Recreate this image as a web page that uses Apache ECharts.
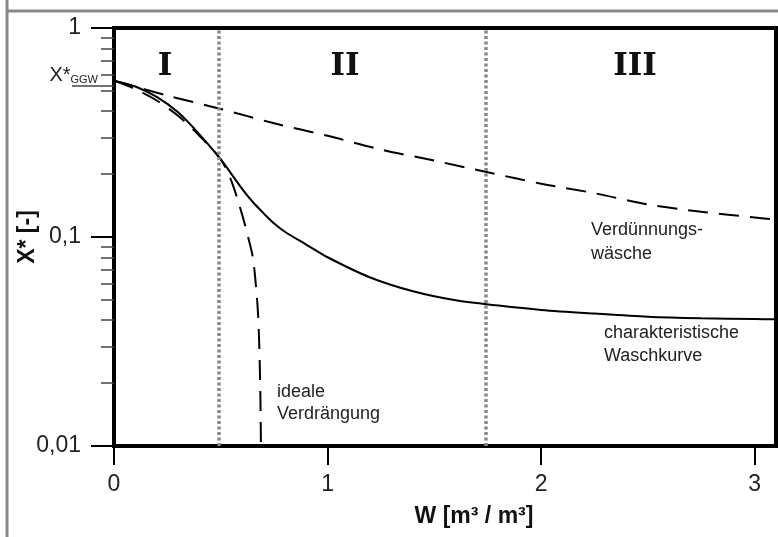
<!DOCTYPE html>
<html><head><meta charset="utf-8">
<script src="https://cdn.jsdelivr.net/npm/echarts@6/dist/echarts.min.js"></script>
<style>html,body{margin:0;padding:0;background:#fff}#c{width:778px;height:537px}</style>
</head><body><div id="c"></div>
<script>
// ---- data ----
const dilutionW = [0, 0.25, 0.5, 0.75, 1.0, 1.25, 1.5, 1.75, 2.0, 2.25, 2.5, 2.75, 3.0, 3.1];
const dilutionX = [0.56, 0.475, 0.41, 0.35, 0.305, 0.262, 0.232, 0.204, 0.18, 0.162, 0.143, 0.132, 0.124, 0.121];

const washW = [0, 0.1, 0.2, 0.3, 0.4, 0.5, 0.6, 0.65, 0.7, 0.75, 0.8, 0.9, 1.0, 1.2, 1.4, 1.6, 1.8, 2.0, 2.25, 2.5, 2.75, 3.0, 3.1];
const washX = [0.56, 0.525, 0.468, 0.395, 0.31, 0.235, 0.17, 0.147, 0.13, 0.116, 0.106, 0.092, 0.08, 0.064, 0.055, 0.0498, 0.047, 0.0448, 0.043, 0.0415, 0.0408, 0.0405, 0.0404];

const idealW = [0, 0.1, 0.2, 0.3, 0.4, 0.5, 0.55, 0.6, 0.63, 0.65, 0.665, 0.675, 0.682, 0.686, 0.688];
const idealX = [0.56, 0.51, 0.45, 0.38, 0.305, 0.235, 0.185, 0.128, 0.098, 0.08, 0.058, 0.042, 0.026, 0.016, 0.0103];

const regionBounds = [0.49, 1.74];
const xTicks = [0, 1, 2, 3];
const yMajor = [0.01, 0.1, 1];
const yMinor = [0.02,0.03,0.04,0.05,0.06,0.07,0.08,0.09,0.2,0.3,0.4,0.5,0.6,0.7,0.8,0.9];
const yGGW = [0.53];
const regionNames = ['I', 'II', 'III'];

const pairs = (a, b) => a.map((v, i) => [v, b[i]]);
const FONT = 'Liberation Sans, Arial, sans-serif';

const baseY = {
  type: 'log', logBase: 10, min: 0.01, max: 1, position: 'left', gridIndex: 0,
  splitLine: { show: false }, minorTick: { show: false }
};

const chart = echarts.init(document.getElementById('c'), null, { renderer: 'canvas' });
chart.setOption({
  animation: false,
  backgroundColor: '#fff',
  grid: { left: 114, top: 28, right: 2, bottom: 91, show: true, borderColor: '#000', borderWidth: 4,
          containLabel: false, outerBoundsMode: 'none' },
  xAxis: {
    type: 'value', min: 0, max: 3.1, interval: 1,
    axisLine: { lineStyle: { color: '#000', width: 4 } },
    axisTick: { show: true, length: 19, lineStyle: { color: '#000', width: 2 }, customValues: xTicks },
    axisLabel: { customValues: xTicks, margin: 27, fontSize: 23, color: '#222', fontFamily: FONT },
    splitLine: { show: false },
    name: 'W [m³ / m³]', nameLocation: 'middle', nameGap: 59, nameMoveOverlap: false,
    nameTextStyle: { fontSize: 23, fontWeight: 'bold', color: '#111', fontFamily: FONT, padding: [0, 0, 0, 58] }
  },
  yAxis: [
    Object.assign({}, baseY, {
      axisLine: { show: true, lineStyle: { color: '#000', width: 4 } },
      axisTick: { show: true, length: 23, lineStyle: { color: '#000', width: 2 }, customValues: yMajor },
      axisLabel: { customValues: yMajor, margin: 33, fontSize: 23, color: '#222', fontFamily: FONT,
        formatter: v => String(v).replace('.', ',') },
      name: 'X* [-]', nameLocation: 'middle', nameGap: 75, nameRotate: 90, nameMoveOverlap: false,
      nameTextStyle: { fontSize: 23, fontWeight: 'bold', color: '#111', fontFamily: FONT }
    }),
    Object.assign({}, baseY, {
      axisLine: { show: false },
      axisTick: { show: true, length: 13, lineStyle: { color: '#444', width: 1.5 }, customValues: yMinor },
      axisLabel: { show: false }
    }),
    Object.assign({}, baseY, {
      axisLine: { show: false },
      axisTick: { show: true, length: 42, lineStyle: { color: '#444', width: 1.5 }, customValues: yGGW },
      axisLabel: { customValues: yGGW, margin: 16, verticalAlign: 'bottom', color: '#222', fontFamily: FONT,
        formatter: () => '{x|X*}{s|GGW}',
        rich: { x: { fontSize: 20, fontFamily: FONT, color: '#222' },
                s: { fontSize: 11, fontFamily: FONT, color: '#222', verticalAlign: 'bottom' } } }
    })
  ],
  series: [
    { type: 'line', name: 'Verdünnungswäsche', data: pairs(dilutionW, dilutionX), smooth: 0.3,
      showSymbol: false, lineStyle: { color: '#000', width: 2, type: [20, 11] },
      markLine: { silent: true, symbol: 'none', label: { show: false },
        lineStyle: { color: '#888', width: 3.5, type: [3, 2.5] },
        data: regionBounds.map(v => ({ xAxis: v })) } },
    { type: 'line', name: 'charakteristische Waschkurve', data: pairs(washW, washX), smooth: 0.3,
      showSymbol: false, lineStyle: { color: '#000', width: 2 } },
    { type: 'line', name: 'ideale Verdrängung', data: pairs(idealW, idealX), smooth: 0.3,
      showSymbol: false, lineStyle: { color: '#000', width: 2, type: [20, 11] } }
  ],
  graphic: [
    { type: 'line', shape: { x1: 7, y1: 0, x2: 7, y2: 537 }, style: { stroke: '#888', lineWidth: 3 } },
    { type: 'line', shape: { x1: 6, y1: 11, x2: 778, y2: 11 }, style: { stroke: '#888', lineWidth: 3 } },
    { type: 'text', x: 165, y: 67, style: { text: regionNames[0], font: 'bold 31px "DejaVu Serif", serif', fill: '#111', textAlign: 'center', textVerticalAlign: 'middle' } },
    { type: 'text', x: 345, y: 67, style: { text: regionNames[1], font: 'bold 31px "DejaVu Serif", serif', fill: '#111', textAlign: 'center', textVerticalAlign: 'middle' } },
    { type: 'text', x: 635, y: 67, style: { text: regionNames[2], font: 'bold 31px "DejaVu Serif", serif', fill: '#111', textAlign: 'center', textVerticalAlign: 'middle' } },
    { type: 'text', x: 591, y: 218, style: { text: 'Verdünnungs-\nwäsche', font: '18px ' + FONT, fill: '#222', lineHeight: 24 } },
    { type: 'text', x: 604, y: 322, style: { text: 'charakteristische\nWaschkurve', font: '18px ' + FONT, fill: '#222', lineHeight: 23 } },
    { type: 'text', x: 277, y: 381, style: { text: 'ideale\nVerdrängung', font: '18px ' + FONT, fill: '#222', lineHeight: 22 } }
  ]
});
</script></body></html>
